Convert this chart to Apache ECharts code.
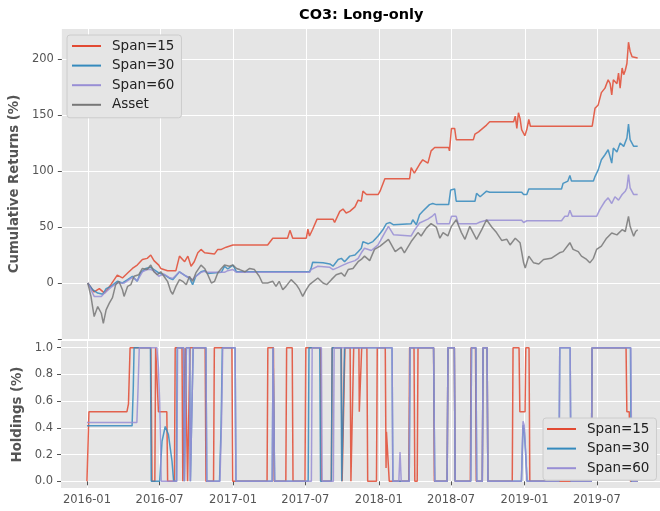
<!DOCTYPE html>
<html>
<head>
<meta charset="utf-8">
<script src="https://cdn.jsdelivr.net/npm/echarts@6/dist/echarts.min.js"></script>
<style>
  html, body { margin: 0; padding: 0; background: #fff; }
  #chart { width: 660px; height: 511px; }
</style>
</head>
<body>
<div id="chart"></div>
<script>
// names and colours of the lines
var seriesNames = ['Span=15', 'Span=30', 'Span=60', 'Asset'];
var colors = ['#E24A33', '#348ABD', '#988ED5', '#777777'];

// axis ticks
var dateTicks = ['2016-01-01', '2016-07-01', '2017-01-01', '2017-07-01', '2018-01-01', '2018-07-01', '2019-01-01', '2019-07-01'];
var returnTicks = [-50, 0, 50, 100, 150, 200];
var returnLabels = [0, 50, 100, 150, 200];
var holdingTicks = [0, 0.2, 0.4, 0.6, 0.8, 1.0];

// cumulative returns (%)
var ret15 = [['2016-01-01',0],['2016-01-13',-6],['2016-01-17',-8],['2016-01-30',-5],['2016-02-12',-9],['2016-02-28',-1.5],['2016-03-15',7],['2016-03-28',4.5],['2016-04-10',9],['2016-04-22',13],['2016-05-04',16],['2016-05-17',21],['2016-05-29',22],['2016-06-07',25],['2016-06-15',20],['2016-06-27',16],['2016-07-02',13],['2016-07-19',11],['2016-08-09',11],['2016-08-18',24],['2016-08-31',19],['2016-09-08',24],['2016-09-16',15],['2016-09-24',19],['2016-10-03',27],['2016-10-11',30],['2016-10-20',27],['2016-11-14',26],['2016-11-22',30],['2016-12-01',30],['2016-12-13',32],['2016-12-30',34],['2017-03-27',34],['2017-04-09',40],['2017-05-16',40],['2017-05-22',47],['2017-05-29',40],['2017-07-02',40],['2017-07-06',48],['2017-07-10',42],['2017-07-18',48],['2017-07-29',57],['2017-09-07',57],['2017-09-11',54],['2017-09-24',64],['2017-10-02',66],['2017-10-10',62.5],['2017-10-19',64],['2017-11-01',68],['2017-11-09',74],['2017-11-17',73],['2017-11-21',82],['2017-11-30',79],['2017-12-29',79],['2018-01-03',82],['2018-01-15',93],['2018-03-18',93],['2018-03-22',103],['2018-03-30',98],['2018-04-12',106],['2018-04-20',110],['2018-05-03',107],['2018-05-11',118],['2018-05-20',121],['2018-06-24',121],['2018-06-26',118],['2018-07-01',138],['2018-07-09',138],['2018-07-13',128],['2018-08-25',128],['2018-08-29',133],['2018-09-07',135],['2018-09-27',141],['2018-10-05',144],['2018-12-04',144],['2018-12-08',149],['2018-12-12',138],['2018-12-16',152],['2018-12-20',147],['2018-12-24',137],['2019-01-01',131.5],['2019-01-06',137],['2019-01-11',146],['2019-01-15',140],['2019-06-19',140],['2019-06-22',147],['2019-06-26',156],['2019-07-04',159],['2019-07-12',170],['2019-07-21',174],['2019-07-29',181.5],['2019-08-03',178],['2019-08-07',168],['2019-08-11',181.5],['2019-08-20',178],['2019-08-24',187.5],['2019-08-28',174],['2019-09-02',192],['2019-09-06',186],['2019-09-10',190],['2019-09-14',196],['2019-09-18',215],['2019-09-22',207],['2019-09-27',202],['2019-10-01',201],['2019-10-11',201]];

var ret30 = [['2016-01-01',0],['2016-01-13',-6],['2016-01-26',-9],['2016-02-08',-10],['2016-02-16',-5],['2016-02-28',-3],['2016-03-15',1.5],['2016-03-28',0],['2016-04-10',3],['2016-04-22',6],['2016-05-04',1.5],['2016-05-12',9],['2016-05-25',13],['2016-06-07',14],['2016-06-15',12],['2016-06-27',9],['2016-07-10',7.4],['2016-07-23',4.5],['2016-08-01',3],['2016-08-18',10],['2016-09-04',6],['2016-09-12',4.5],['2016-09-20',-1.5],['2016-09-28',6],['2016-10-11',10],['2016-10-20',11],['2016-10-28',8.5],['2016-12-01',9.5],['2016-12-09',15],['2016-12-17',12.5],['2016-12-30',16],['2017-01-08',10],['2017-07-10',10],['2017-07-14',13],['2017-07-18',18.5],['2017-08-13',18],['2017-08-30',17],['2017-09-07',15],['2017-09-20',21],['2017-09-28',22],['2017-10-06',19],['2017-10-19',24],['2017-11-01',25],['2017-11-09',28],['2017-11-17',31],['2017-11-21',37],['2017-12-04',35],['2017-12-16',37],['2017-12-29',42],['2018-01-11',48],['2018-01-19',53],['2018-01-28',54],['2018-02-06',52],['2018-03-22',53],['2018-03-26',56.5],['2018-04-04',52],['2018-04-12',61],['2018-04-20',64],['2018-05-07',70],['2018-05-15',71],['2018-05-24',70],['2018-06-24',70],['2018-06-29',83],['2018-07-09',84],['2018-07-13',73],['2018-08-29',73],['2018-09-02',80],['2018-09-11',77],['2018-09-27',82],['2018-10-05',81],['2018-12-24',81],['2018-12-29',79],['2019-01-06',79],['2019-01-11',84],['2019-04-03',84],['2019-04-07',89],['2019-04-19',91],['2019-04-24',96],['2019-04-28',91],['2019-06-22',91],['2019-06-26',95],['2019-07-04',101],['2019-07-12',110],['2019-07-21',114.5],['2019-07-29',119],['2019-08-07',107],['2019-08-11',120.5],['2019-08-20',117],['2019-08-28',125],['2019-09-06',122],['2019-09-14',129.5],['2019-09-18',142],['2019-09-22',128],['2019-10-01',122],['2019-10-11',122]];

var ret60 = [['2016-01-01',0],['2016-01-17',-12],['2016-02-04',-12],['2016-02-12',-9],['2016-02-28',-4],['2016-03-15',0],['2016-04-01',0],['2016-04-22',5],['2016-05-04',2],['2016-05-17',10],['2016-05-29',12],['2016-06-07',12],['2016-06-15',11],['2016-06-27',6],['2016-07-10',8],['2016-07-23',5],['2016-08-01',4],['2016-08-18',10],['2016-09-04',6],['2016-09-20',3],['2016-09-28',6],['2016-10-11',9.5],['2016-10-20',10.5],['2016-10-28',9.5],['2016-12-09',9.5],['2016-12-17',11],['2016-12-30',12],['2017-01-08',9.5],['2017-07-10',9.5],['2017-07-14',12],['2017-07-31',15],['2017-08-30',14],['2017-09-07',12],['2017-09-20',14],['2017-10-02',16],['2017-10-15',18],['2017-11-01',20],['2017-11-09',22],['2017-11-17',27],['2017-11-25',31],['2017-12-12',29],['2017-12-29',34],['2018-01-15',45],['2018-01-24',50.6],['2018-02-06',43],['2018-02-10',42],['2018-03-22',42],['2018-03-30',47],['2018-04-12',53.6],['2018-05-03',57],['2018-05-15',60],['2018-05-21',62],['2018-05-26',53],['2018-06-26',53],['2018-07-01',59.5],['2018-07-13',59.5],['2018-07-18',53],['2018-09-02',53],['2018-09-11',54.5],['2018-09-27',56],['2018-12-24',56],['2018-12-29',54],['2019-01-06',55.6],['2019-04-03',55.6],['2019-04-11',59.5],['2019-04-19',59.5],['2019-04-24',65],['2019-04-30',59.5],['2019-06-30',59.5],['2019-07-08',65.5],['2019-07-21',73],['2019-07-29',76],['2019-08-07',71],['2019-08-15',77],['2019-08-24',74],['2019-09-02',79],['2019-09-10',82],['2019-09-14',85],['2019-09-18',96.7],['2019-09-22',85],['2019-10-01',79],['2019-10-11',79]];

var retAsset = [['2016-01-01',0],['2016-01-09',-12],['2016-01-17',-30],['2016-01-26',-21],['2016-02-04',-27],['2016-02-09',-36],['2016-02-16',-24],['2016-02-24',-18],['2016-03-03',-13],['2016-03-11',-1.5],['2016-03-19',1.5],['2016-03-28',-6],['2016-04-01',-12],['2016-04-10',-3],['2016-04-18',-1.5],['2016-04-26',6],['2016-05-08',7.4],['2016-05-17',13],['2016-05-29',12],['2016-06-07',16],['2016-06-15',10],['2016-06-23',7.4],['2016-07-02',10],['2016-07-10',6],['2016-07-19',1.5],['2016-07-27',-7.4],['2016-08-01',-10],['2016-08-09',-3],['2016-08-18',3],['2016-08-26',1.5],['2016-09-04',-1.5],['2016-09-12',6],['2016-09-20',1.5],['2016-09-28',9],['2016-10-11',16],['2016-10-20',13],['2016-10-28',7.4],['2016-11-06',0],['2016-11-14',1.5],['2016-11-22',9],['2016-12-01',13],['2016-12-09',16],['2016-12-21',15],['2016-12-30',16],['2017-01-08',13],['2017-01-16',12],['2017-01-29',10],['2017-02-10',13],['2017-02-22',12],['2017-03-06',6],['2017-03-14',0],['2017-03-27',0],['2017-04-09',1.5],['2017-04-17',-3],['2017-04-25',1.5],['2017-05-04',-6],['2017-05-12',-3],['2017-05-25',3],['2017-06-07',-1.5],['2017-06-15',-6],['2017-06-23',-12],['2017-07-02',-6],['2017-07-10',-1.5],['2017-07-14',-3],['2017-07-31',4.5],['2017-08-13',0],['2017-08-22',-1.5],['2017-09-03',3],['2017-09-15',7.4],['2017-09-28',9],['2017-10-06',6],['2017-10-15',12],['2017-10-27',13],['2017-11-09',19],['2017-11-17',21],['2017-11-25',24],['2017-12-08',20],['2017-12-20',30],['2018-01-03',33],['2018-01-24',39],['2018-02-10',28],['2018-02-25',32],['2018-03-05',27],['2018-03-22',37],['2018-04-08',45],['2018-04-16',42],['2018-04-29',49],['2018-05-11',53],['2018-05-24',50],['2018-06-02',40],['2018-06-10',45],['2018-06-22',42],['2018-07-01',50.6],['2018-07-13',56.5],['2018-07-26',45],['2018-08-04',39],['2018-08-16',50.6],['2018-09-02',39],['2018-09-15',47.6],['2018-09-27',56.5],['2018-10-10',50],['2018-10-22',45],['2018-11-04',38],['2018-11-17',39],['2018-11-25',34],['2018-12-08',40],['2018-12-12',41.7],['2018-12-20',36],['2018-12-29',18],['2019-01-02',13.4],['2019-01-11',24],['2019-01-23',18],['2019-02-05',17],['2019-02-17',21],['2019-03-08',22],['2019-03-29',27],['2019-04-07',28],['2019-04-24',36],['2019-05-02',30],['2019-05-15',28],['2019-05-23',24],['2019-06-05',21],['2019-06-13',18],['2019-06-22',22],['2019-06-30',30],['2019-07-12',33],['2019-07-25',40],['2019-08-07',44.6],['2019-08-20',43],['2019-09-02',47.6],['2019-09-10',46],['2019-09-18',59.5],['2019-09-22',50.6],['2019-10-01',41.7],['2019-10-06',46],['2019-10-11',47.6]];

// holdings (fraction of capital)
var hold15 = [['2016-01-01',0],['2016-01-06',0.52],['2016-04-10',0.52],['2016-04-14',0.58],['2016-04-18',1],['2016-06-09',1],['2016-06-12',0],['2016-06-19',0],['2016-06-21',1],['2016-06-26',1],['2016-06-28',0.52],['2016-07-19',0.52],['2016-07-21',0],['2016-08-07',0],['2016-08-09',1],['2016-08-26',1],['2016-08-28',0],['2016-09-01',0],['2016-09-03',1],['2016-09-07',1],['2016-09-09',0],['2016-09-13',0],['2016-09-15',1],['2016-10-23',1],['2016-10-25',0],['2016-11-13',0],['2016-11-15',1],['2016-12-29',1],['2016-12-31',0],['2017-03-27',0],['2017-03-29',1],['2017-04-12',1],['2017-04-14',0],['2017-05-13',0],['2017-05-15',1],['2017-05-29',1],['2017-05-31',0],['2017-06-30',0],['2017-07-02',1],['2017-08-08',1],['2017-08-10',0],['2017-09-04',0],['2017-09-06',1],['2017-09-29',1],['2017-10-01',0],['2017-10-06',0],['2017-10-08',1],['2017-10-21',1],['2017-10-23',0],['2017-10-28',0],['2017-10-30',1],['2017-11-12',1],['2017-11-13',0.52],['2017-11-18',0.52],['2017-11-19',1],['2017-12-02',1],['2017-12-04',0],['2017-12-26',0],['2017-12-28',1],['2018-01-17',1],['2018-01-19',0.1],['2018-01-20',0.37],['2018-01-25',0.37],['2018-01-27',0],['2018-03-17',0],['2018-03-19',1],['2018-03-30',1],['2018-04-01',0],['2018-04-07',0],['2018-04-09',1],['2018-05-18',1],['2018-05-20',0],['2018-06-21',0],['2018-06-23',1],['2018-07-09',1],['2018-07-11',0],['2018-08-18',0],['2018-08-20',1],['2018-08-31',1],['2018-09-02',0],['2018-09-17',0],['2018-09-19',1],['2018-09-29',1],['2018-10-01',0],['2018-12-01',0],['2018-12-03',1],['2018-12-18',1],['2018-12-20',0.52],['2019-01-02',0.52],['2019-01-04',1],['2019-01-12',1],['2019-01-14',0],['2019-06-17',0],['2019-06-19',1],['2019-09-12',1],['2019-09-14',0.52],['2019-09-20',0.52],['2019-09-23',0],['2019-10-11',0]];

var hold30 = [['2016-01-01',0.415],['2016-04-23',0.415],['2016-04-26',0.7],['2016-04-28',1],['2016-06-08',1],['2016-06-10',0],['2016-07-01',0],['2016-07-07',0.3],['2016-07-15',0.41],['2016-07-23',0.35],['2016-08-01',0.15],['2016-08-05',0],['2016-08-12',0],['2016-08-14',1],['2016-08-30',1],['2016-09-01',0],['2016-09-04',0],['2016-09-06',1],['2016-09-14',1],['2016-09-16',0],['2016-09-21',0],['2016-09-23',1],['2016-10-25',1],['2016-10-27',0],['2016-11-28',0],['2016-12-02',0.42],['2016-12-05',1],['2017-01-06',1],['2017-01-08',0],['2017-04-09',0],['2017-04-11',1],['2017-04-13',1],['2017-04-15',0],['2017-07-08',0],['2017-07-10',1],['2017-08-06',1],['2017-08-08',0],['2017-09-04',0],['2017-09-06',1],['2017-09-28',1],['2017-09-30',0],['2017-10-05',0],['2017-10-07',1],['2018-02-03',1],['2018-02-05',0],['2018-03-18',0],['2018-03-20',1],['2018-05-18',1],['2018-05-21',0],['2018-06-21',0],['2018-06-23',1],['2018-07-09',1],['2018-07-11',0],['2018-08-19',0],['2018-08-21',1],['2018-09-01',1],['2018-09-03',0],['2018-09-17',0],['2018-09-19',1],['2018-09-29',1],['2018-10-01',0],['2018-12-24',0],['2018-12-28',0.42],['2018-12-31',0.38],['2019-01-04',0.18],['2019-01-07',0],['2019-03-28',0],['2019-03-30',1],['2019-04-25',1],['2019-04-27',0],['2019-06-17',0],['2019-06-19',1],['2019-09-23',1],['2019-09-25',0],['2019-10-11',0]];

var hold60 = [['2016-01-01',0.44],['2016-05-05',0.44],['2016-05-08',0.7],['2016-05-11',1],['2016-06-24',1],['2016-06-28',0.85],['2016-07-01',0.6],['2016-07-05',0],['2016-08-13',0],['2016-08-15',1],['2016-08-30',1],['2016-09-01',0],['2016-09-04',0],['2016-09-06',1],['2016-09-14',1],['2016-09-16',0],['2016-09-21',0],['2016-09-23',1],['2016-10-25',1],['2016-10-27',0],['2016-11-29',0],['2016-12-03',0.45],['2016-12-06',1],['2017-01-06',1],['2017-01-08',0],['2017-04-09',0],['2017-04-11',1],['2017-04-13',1],['2017-04-15',0],['2017-07-16',0],['2017-07-18',1],['2017-08-10',1],['2017-08-12',0],['2017-09-09',0],['2017-09-11',1],['2018-02-03',1],['2018-02-05',0],['2018-02-20',0],['2018-02-23',0.22],['2018-02-26',0],['2018-03-18',0],['2018-03-20',1],['2018-05-18',1],['2018-05-21',0],['2018-06-21',0],['2018-06-23',1],['2018-07-09',1],['2018-07-11',0],['2018-08-19',0],['2018-08-21',1],['2018-09-01',1],['2018-09-03',0],['2018-09-17',0],['2018-09-19',1],['2018-09-29',1],['2018-10-01',0],['2018-12-24',0],['2018-12-28',0.45],['2018-12-31',0.42],['2019-01-04',0.2],['2019-01-07',0],['2019-03-28',0],['2019-03-30',1],['2019-04-25',1],['2019-04-27',0],['2019-06-17',0],['2019-06-19',1],['2019-09-24',1],['2019-09-25',0.55],['2019-09-27',0],['2019-10-11',0]];

function toTime(s) {
  var p = s.split('-');
  return new Date(+p[0], +p[1] - 1, +p[2]).getTime();
}
function fmtMonth(v) {
  var d = new Date(v);
  return d.getFullYear() + '-' + ('0' + (d.getMonth() + 1)).slice(-2);
}

var tickTimes = dateTicks.map(toTime);
var xMin = toTime('2015-10-28');
var xMax = toTime('2019-12-06');
var font = 'DejaVu Sans';
var grey = '#555555';

function line(name, data, idx, color) {
  return {
    name: name,
    type: 'line',
    xAxisIndex: idx,
    yAxisIndex: idx,
    data: data.map(function (p) { return [toTime(p[0]), p[1]]; }),
    showSymbol: false,
    symbol: 'none',
    color: color,
    lineStyle: { width: 1.5, color: color, opacity: 0.85 },
    emphasis: { disabled: true }
  };
}

var chart = echarts.init(document.getElementById('chart'));

var legendBase = {
  orient: 'vertical',
  icon: 'rect',
  itemWidth: 29,
  itemHeight: 2,
  itemGap: 3.6,
  backgroundColor: '#E5E5E5',
  borderColor: '#CCCCCC',
  borderWidth: 1,
  borderRadius: 3,
  textStyle: { fontFamily: font, fontSize: 13.5, lineHeight: 16, color: '#222', padding: [0, 0, 0, 6] }
};

var option = {
  animation: false,
  textStyle: { fontFamily: font },
  title: {
    text: 'CO3: Long-only',
    left: 299,
    top: 8,
    padding: 0,
    textStyle: { fontFamily: font, fontSize: 14.5, fontWeight: 'bold', color: '#000' }
  },
  legend: [
    Object.assign({}, legendBase, {
      data: seriesNames,
      left: 67, top: 35,
      padding: [3, 7, 5, 5]
    }),
    Object.assign({}, legendBase, {
      data: seriesNames.slice(0, 3),
      left: 543, top: 418,
      padding: [3, 7, 4, 4]
    })
  ],
  grid: [
    { left: 61, right: 0, top: 29, height: 310, show: true, backgroundColor: '#E5E5E5', borderWidth: 0 },
    { left: 61, right: 0, top: 341, height: 147, show: true, backgroundColor: '#E5E5E5', borderWidth: 0 }
  ],
  xAxis: [
    {
      type: 'value', gridIndex: 0, min: xMin, max: xMax,
      axisLine: { show: false },
      axisTick: { show: false, customValues: tickTimes },
      axisLabel: { show: false, customValues: tickTimes },
      splitLine: { show: true, lineStyle: { color: '#fff', width: 1 } }
    },
    {
      type: 'value', gridIndex: 1, min: xMin, max: xMax,
      axisLine: { show: false },
      axisTick: { show: true, length: 4, customValues: tickTimes, lineStyle: { color: grey } },
      axisLabel: { customValues: tickTimes, formatter: fmtMonth, color: grey, fontSize: 11.5, margin: 6, fontFamily: font, hideOverlap: false },
      splitLine: { show: true, lineStyle: { color: '#fff', width: 1 } }
    }
  ],
  yAxis: [
    {
      type: 'value', gridIndex: 0, min: -50, max: 226.8,
      name: 'Cumulative Returns (%)', nameLocation: 'middle', nameGap: 39, nameRotate: 90,
      nameTextStyle: { fontFamily: font, fontSize: 13.3, fontWeight: 'bold', color: grey },
      axisLine: { show: false },
      axisTick: { show: true, length: 4, customValues: returnTicks, lineStyle: { color: grey } },
      axisLabel: { customValues: returnLabels, color: grey, fontSize: 11.5, margin: 8, fontFamily: font },
      splitLine: { show: true, lineStyle: { color: '#fff', width: 1 } }
    },
    {
      type: 'value', gridIndex: 1, min: -0.05, max: 1.05,
      name: 'Holdings (%)', nameLocation: 'middle', nameGap: 30, nameRotate: 90,
      nameTextStyle: { fontFamily: font, fontSize: 13.3, fontWeight: 'bold', color: grey },
      axisLine: { show: false },
      axisTick: { show: true, length: 4, customValues: holdingTicks, lineStyle: { color: grey } },
      axisLabel: {
        customValues: holdingTicks, color: grey, fontSize: 11.5, margin: 8, fontFamily: font,
        formatter: function (v) { return v.toFixed(1); }
      },
      splitLine: { show: true, lineStyle: { color: '#fff', width: 1 } }
    }
  ],
  series: [
    line(seriesNames[0], ret15, 0, colors[0]),
    line(seriesNames[1], ret30, 0, colors[1]),
    line(seriesNames[2], ret60, 0, colors[2]),
    line(seriesNames[3], retAsset, 0, colors[3]),
    line(seriesNames[0], hold15, 1, colors[0]),
    line(seriesNames[1], hold30, 1, colors[1]),
    line(seriesNames[2], hold60, 1, colors[2])
  ]
};

chart.setOption(option);
</script>
</body>
</html>
